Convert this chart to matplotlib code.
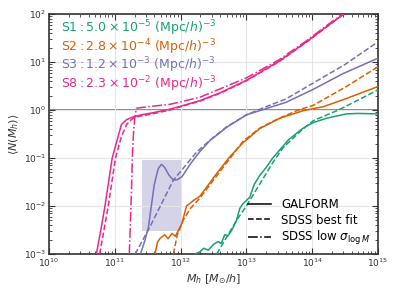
import numpy as np
import matplotlib
matplotlib.use("Agg")
import matplotlib.pyplot as plt

# couleurs (Dark2)
VERT = "#1b9e77"
ORANGE = "#d95f02"
VIOLET = "#7570b3"
ROSE = "#e7298a"

# S8 (log10 M, log10 <N>)
s8_galform_m = [10.72, 10.8, 10.85, 10.96, 11.04, 11.1, 11.18, 11.26, 11.4, 11.6, 11.84, 12.0, 12.3, 12.6, 13.0, 13.5, 13.92, 14.2, 14.5]
s8_galform_n = [-3, -2.4, -2.0, -1.0, -0.6, -0.3, -0.2, -0.15, -0.1, -0.05, 0.02, 0.08, 0.2, 0.36, 0.62, 1.02, 1.43, 1.72, 2.02]
s8_fit_m = [10.77, 10.9, 11.01, 11.1, 11.18, 11.25, 11.32, 11.5, 11.84, 12.0, 12.3, 12.6, 13.0, 13.5, 13.92, 14.2, 14.5]
s8_fit_n = [-3, -2.0, -1.0, -0.55, -0.3, -0.2, -0.14, -0.1, 0.0, 0.07, 0.19, 0.35, 0.61, 1.01, 1.42, 1.71, 2.02]
s8_low_m = [11.22, 11.25, 11.27, 11.29, 11.31, 11.33, 11.5, 11.84, 12.3, 13.0, 13.5, 13.92, 14.2, 14.5]
s8_low_n = [-3, -1.8, -0.83, -0.35, -0.1, 0.04, 0.07, 0.12, 0.27, 0.67, 1.05, 1.45, 1.74, 2.04]

# S3
s3_galform_m = [11.39, 11.45, 11.51, 11.56, 11.6, 11.66, 11.71, 11.76, 11.82, 11.89, 11.95, 12.02, 12.15, 12.29, 12.45, 12.7, 13.0, 13.3, 13.6, 14.0, 14.47, 15.0]
s3_galform_n = [-3, -2.75, -2.45, -1.95, -1.55, -1.22, -1.13, -1.2, -1.35, -1.46, -1.45, -1.39, -1.12, -0.87, -0.63, -0.36, -0.1, 0.03, 0.16, 0.42, 0.76, 1.08]
s3_fit_m = [11.31, 11.535, 11.89, 12.0, 12.24, 12.47, 12.7, 13.0, 13.3, 13.6, 14.0, 14.5, 15.0]
s3_fit_n = [-3, -2.43, -1.46, -1.28, -0.88, -0.6, -0.35, -0.1, 0.07, 0.23, 0.55, 0.95, 1.42]

# S2
s2_galform_m = [11.61, 11.65, 11.69, 11.76, 11.81, 11.87, 11.92, 11.97, 12.02, 12.09, 12.2, 12.29, 12.4, 12.55, 12.75, 12.95, 13.21, 13.51, 13.87, 14.17, 14.52, 15.0]
s2_galform_n = [-3, -2.75, -2.67, -2.6, -2.68, -2.57, -2.63, -2.5, -2.36, -2.0, -1.88, -1.8, -1.6, -1.32, -0.97, -0.68, -0.38, -0.17, -0.01, 0.07, 0.24, 0.49]
s2_fit_m = [11.89, 11.95, 12.04, 12.15, 12.29, 12.45, 12.7, 12.95, 13.2, 13.5, 13.79, 14.02, 14.52, 15.0]
s2_fit_n = [-3, -2.6, -2.29, -2.05, -1.84, -1.55, -1.1, -0.65, -0.38, -0.17, 0.0, 0.1, 0.49, 0.9]

# S1
s1_galform_m = [12.22, 12.3, 12.35, 12.42, 12.5, 12.57, 12.62, 12.67, 12.72, 12.78, 12.85, 12.9, 12.95, 13.05, 13.12, 13.21, 13.3, 13.4, 13.51, 13.64, 13.75, 13.84, 13.92, 14.02, 14.22, 14.52, 14.7, 15.0]
s1_galform_n = [-3, -2.95, -2.88, -2.92, -2.8, -2.74, -2.78, -2.6, -2.62, -2.5, -2.3, -2.05, -1.95, -1.82, -1.55, -1.35, -1.2, -1.0, -0.83, -0.62, -0.5, -0.4, -0.33, -0.26, -0.17, -0.08, -0.07, -0.08]
s1_fit_m = [12.55, 12.7, 12.85, 13.0, 13.2, 13.4, 13.56, 13.84, 14.02, 14.4, 15.0]
s1_fit_n = [-3, -2.65, -2.3, -2.0, -1.55, -1.1, -0.78, -0.42, -0.22, 0.0, 0.42]

etiquettes = [
    (r"$\rm S1: 5.0\times10^{-5}$ (Mpc/$h$)$^{-3}$", VERT),
    (r"$\rm S2: 2.8\times10^{-4}$ (Mpc/$h$)$^{-3}$", ORANGE),
    (r"$\rm S3: 1.2\times10^{-3}$ (Mpc/$h$)$^{-3}$", VIOLET),
    (r"$\rm S8: 2.3\times10^{-2}$ (Mpc/$h$)$^{-3}$", ROSE),
]

# boite grisee (log M, log N)
boite_m = [11.41, 12.02]
boite_n = [-2.52, -1.04]


def p(v):
    return 10 ** np.array(v)


fig = plt.figure(figsize=(3.99, 2.94), dpi=100)
ax = fig.add_axes([0.123, 0.136, 0.824, 0.816])

ax.fill_between(p(boite_m), p(boite_n[0]), p(boite_n[1]), color=VIOLET, alpha=0.3, lw=0, zorder=1)
ax.axhline(1.0, color="#888888", lw=1.4, zorder=1)

lw = 1.1
ax.plot(p(s8_galform_m), p(s8_galform_n), color=ROSE, lw=lw, zorder=3)
ax.plot(p(s8_fit_m), p(s8_fit_n), color=ROSE, lw=lw, ls="--", zorder=3)
ax.plot(p(s8_low_m), p(s8_low_n), color=ROSE, lw=lw, ls="-.", zorder=3)
ax.plot(p(s3_galform_m), p(s3_galform_n), color=VIOLET, lw=lw, zorder=3)
ax.plot(p(s3_fit_m), p(s3_fit_n), color=VIOLET, lw=lw, ls="--", zorder=3)
ax.plot(p(s2_galform_m), p(s2_galform_n), color=ORANGE, lw=lw, zorder=3)
ax.plot(p(s2_fit_m), p(s2_fit_n), color=ORANGE, lw=lw, ls="--", zorder=3)
ax.plot(p(s1_galform_m), p(s1_galform_n), color=VERT, lw=lw, zorder=3)
ax.plot(p(s1_fit_m), p(s1_fit_n), color=VERT, lw=lw, ls="--", zorder=3)

ax.set_xscale("log")
ax.set_yscale("log")
ax.set_xlim(1e10, 1e15)
ax.set_ylim(1e-3, 1e2)
ax.grid(True, color="#e6e6e6", lw=0.8, zorder=0)
ax.tick_params(which="both", direction="in", top=True, right=True, colors="#333333",
               labelsize=6.5, pad=2)
ax.tick_params(which="major", length=4)
ax.tick_params(which="minor", length=2.2)
for s in ax.spines.values():
    s.set_color("#333333")
    s.set_linewidth(1.2)

ax.set_xlabel(r"$M_h$ [$M_{\odot}/h$]", fontsize=8, color="#333333", labelpad=2)
ax.set_ylabel(r"$\langle N(M_h)\rangle$", fontsize=8, color="#333333", labelpad=2)

for i, (texte, couleur) in enumerate(etiquettes):
    ax.text(0.035, 0.942 - i * 0.078, texte, color=couleur, fontsize=9,
            transform=ax.transAxes, va="center", ha="left")

ax.plot([], [], color="black", lw=lw, label="GALFORM")
ax.plot([], [], color="black", lw=lw, ls="--", label="SDSS best fit")
ax.plot([], [], color="black", lw=lw, ls="-.", label=r"SDSS low $\sigma_{\log M}$")
ax.legend(loc="lower right", frameon=False, fontsize=8.5, handlelength=2.0,
          labelspacing=0.2, handletextpad=0.85, bbox_to_anchor=(1.01, -0.015))

fig.savefig("out.png", dpi=100)
